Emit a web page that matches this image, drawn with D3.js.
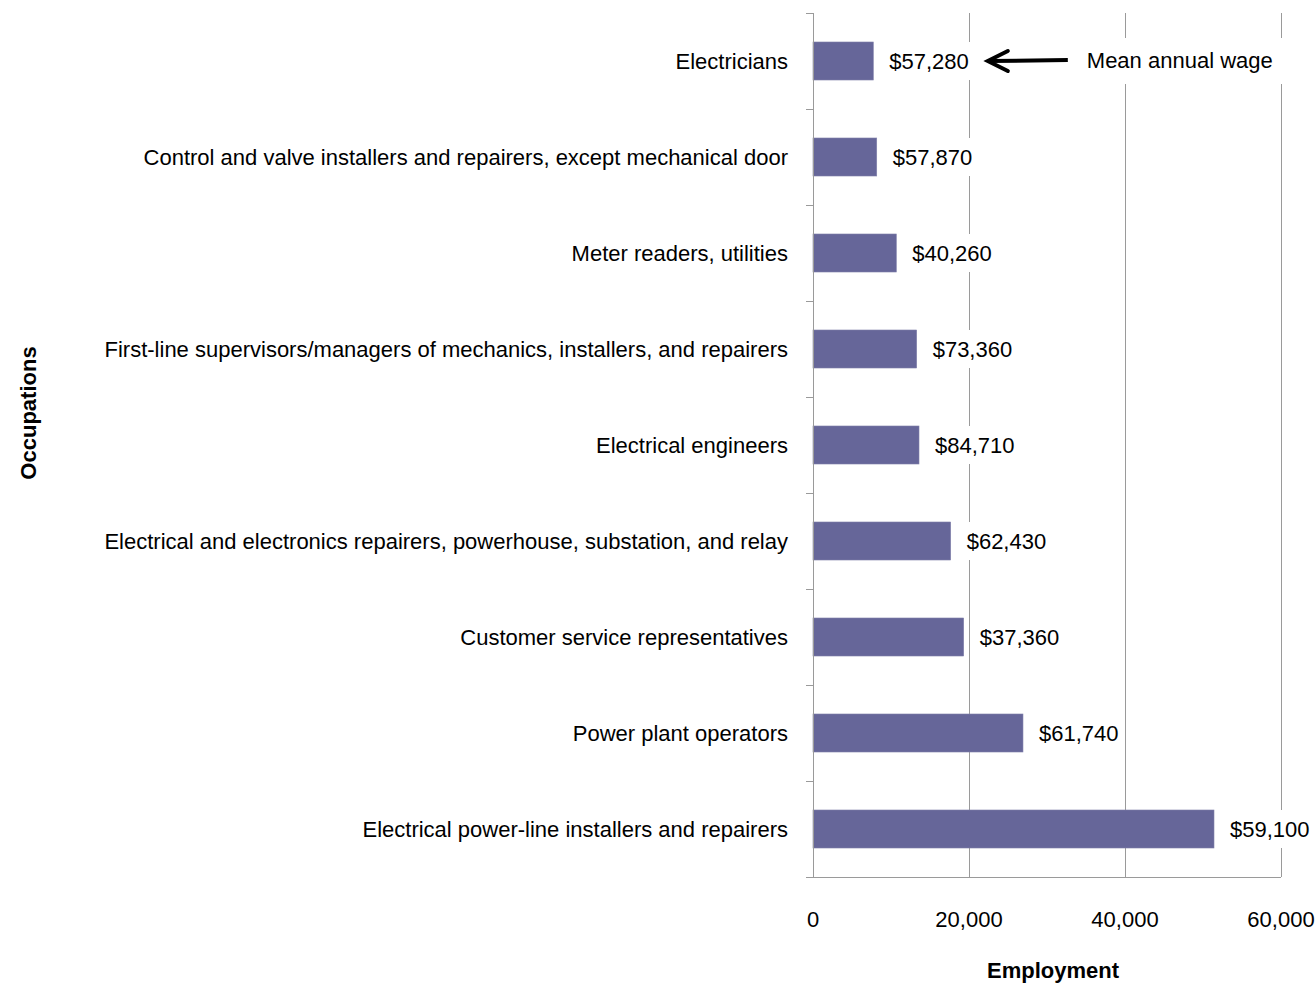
<!DOCTYPE html>
<html>
<head>
<meta charset="utf-8">
<script src="https://cdn.jsdelivr.net/npm/d3@7"></script>
<style>
  html, body { margin: 0; padding: 0; background: #fff; }
  svg { display: block; font-family: "Liberation Sans", Arial, sans-serif; }
</style>
</head>
<body>
<svg id="chart" width="1316" height="983"></svg>
<script>
const categories = [
  "Electricians",
  "Control and valve installers and repairers, except mechanical door",
  "Meter readers, utilities",
  "First-line supervisors/managers of mechanics, installers, and repairers",
  "Electrical engineers",
  "Electrical and electronics repairers, powerhouse, substation, and relay",
  "Customer service representatives",
  "Power plant operators",
  "Electrical power-line installers and repairers"
];
const employment = [7730, 8170, 10680, 13290, 13590, 17650, 19320, 26920, 51410];
const wageLabels = ["$57,280", "$57,870", "$40,260", "$73,360", "$84,710", "$62,430", "$37,360", "$61,740", "$59,100"];
const xTicks = [0, 20000, 40000, 60000];
const xTickLabels = ["0", "20,000", "40,000", "60,000"];
const annotationText = "Mean annual wage";
const xTitle = "Employment";
const yTitle = "Occupations";

(function () {
const svg = d3.select("#chart");
const pLeft = 813, pRight = 1281, pTop = 13, pBottom = 877;
const x = d3.scaleLinear().domain([0, 60000]).range([pLeft, pRight]);
const y = d3.scaleBand().domain(categories).range([pTop, pBottom])
  .paddingInner(0.604).paddingOuter(0.302);
const axisColor = "#9a9a9a";
const fs = 22;

// gridlines
svg.append("g").selectAll("line").data(xTicks.slice(1)).join("line")
  .attr("x1", d => x(d)).attr("x2", d => x(d))
  .attr("y1", pTop).attr("y2", pBottom)
  .attr("stroke", axisColor).attr("stroke-width", 1).attr("shape-rendering", "crispEdges");

// bars
svg.append("g").selectAll("rect").data(categories).join("rect")
  .attr("x", x(0)).attr("y", d => y(d))
  .attr("width", (d, i) => x(employment[i]) - x(0))
  .attr("height", y.bandwidth())
  .attr("fill", "#666699").attr("stroke", "#8080aa").attr("stroke-width", 0.6);

// left axis line + ticks at band boundaries
const boundaries = d3.range(categories.length + 1).map(i => pTop + i * y.step());
svg.append("line").attr("x1", pLeft).attr("x2", pLeft).attr("y1", pTop).attr("y2", pBottom)
  .attr("stroke", axisColor).attr("shape-rendering", "crispEdges");
svg.append("g").selectAll("line").data(boundaries).join("line")
  .attr("x1", pLeft - 7).attr("x2", pLeft).attr("y1", d => d).attr("y2", d => d)
  .attr("stroke", axisColor).attr("shape-rendering", "crispEdges");
svg.append("line").attr("x1", pLeft - 7).attr("x2", pRight).attr("y1", pBottom).attr("y2", pBottom)
  .attr("stroke", axisColor).attr("shape-rendering", "crispEdges");

// category labels
svg.append("g").selectAll("text").data(categories).join("text")
  .attr("x", pLeft - 25).attr("y", d => y(d) + y.bandwidth() / 2)
  .attr("dy", "0.35em").attr("text-anchor", "end")
  .attr("font-size", fs).attr("fill", "#000").text(d => d);

// value labels with white backgrounds
const lg = svg.append("g");
const labelEnds = [];
categories.forEach((c, i) => {
  const g = lg.append("g");
  const bg = g.append("rect").attr("fill", "#fff");
  const t = g.append("text")
    .attr("x", x(employment[i]) + 16).attr("y", y(c) + y.bandwidth() / 2)
    .attr("dy", "0.35em").attr("font-size", fs).attr("fill", "#000")
    .text(wageLabels[i]);
  const bb = t.node().getBBox();
  bg.attr("x", bb.x - 3).attr("y", y(c)).attr("width", bb.width + 6).attr("height", y.bandwidth());
  labelEnds.push(bb.x + bb.width);
});

// x tick labels
svg.append("g").selectAll("text").data(xTicks).join("text")
  .attr("x", d => x(d)).attr("y", pBottom + 42).attr("dy", "0.35em")
  .attr("text-anchor", "middle").attr("font-size", fs).attr("fill", "#000")
  .text((d, i) => xTickLabels[i]);

// axis titles
svg.append("text").attr("x", (pLeft + pRight) / 2 + 6).attr("y", 978)
  .attr("text-anchor", "middle").attr("font-size", fs).attr("font-weight", "bold")
  .text(xTitle);
svg.append("text").attr("transform", `translate(36, ${(pTop + pBottom) / 2 - 32}) rotate(-90)`)
  .attr("text-anchor", "middle").attr("font-size", fs).attr("font-weight", "bold")
  .text(yTitle);

// annotation
const ay = y(categories[0]) + y.bandwidth() / 2;
const tipX = labelEnds[0] + 17;
const ag = svg.append("g");
const abg = ag.append("rect").attr("fill", "#fff");
const at = ag.append("text").attr("x", tipX + 101).attr("y", ay - 1).attr("dy", "0.35em")
  .attr("font-size", fs).attr("fill", "#000").text(annotationText);
const abb = at.node().getBBox();
abg.attr("x", tipX - 10).attr("y", ay - 23).attr("width", abb.x + abb.width + 14 - (tipX - 10)).attr("height", 46);
ag.append("line").attr("x1", tipX + 3).attr("x2", tipX + 82).attr("y1", ay).attr("y2", ay - 1)
  .attr("stroke", "#000").attr("stroke-width", 4);
ag.append("path")
  .attr("d", `M${tipX + 22},${ay - 10} L${tipX + 2},${ay} L${tipX + 22},${ay + 10}`)
  .attr("fill", "none").attr("stroke", "#000").attr("stroke-width", 4)
  .attr("stroke-linejoin", "miter").attr("stroke-linecap", "round");
})();
</script>
</body>
</html>
